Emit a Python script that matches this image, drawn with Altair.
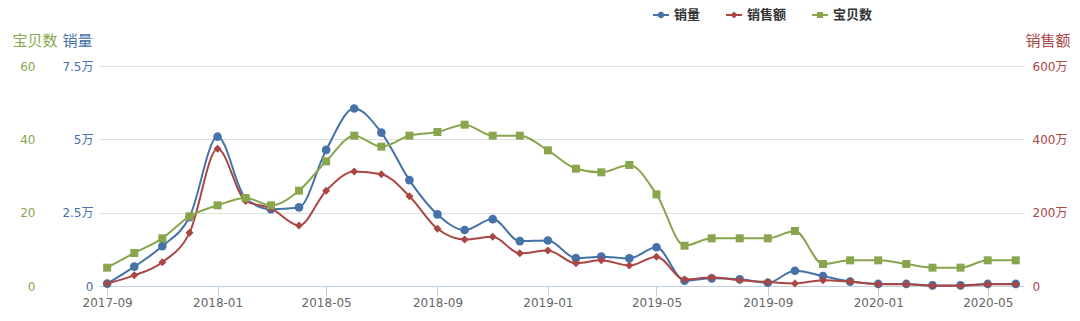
import altair as alt
import pandas as pd

# ---------------- data ----------------
months = [
    "2017-09", "2017-10", "2017-11", "2017-12",
    "2018-01", "2018-02", "2018-03", "2018-04", "2018-05", "2018-06",
    "2018-07", "2018-08", "2018-09", "2018-10", "2018-11", "2018-12",
    "2019-01", "2019-02", "2019-03", "2019-04", "2019-05", "2019-06",
    "2019-07", "2019-08", "2019-09", "2019-10", "2019-11", "2019-12",
    "2020-01", "2020-02", "2020-03", "2020-04", "2020-05", "2020-06",
]
# 销量 (unit: 万)
sales_volume_wan = [
    0.08, 0.66, 1.36, 2.35,
    5.09, 2.99, 2.62, 2.68, 4.64, 6.05,
    5.23, 3.61, 2.44, 1.91, 2.28, 1.53,
    1.55, 0.95, 1.00, 0.94, 1.32, 0.18,
    0.26, 0.23, 0.11, 0.52, 0.34, 0.15,
    0.07, 0.07, 0.02, 0.02, 0.07, 0.07,
]
# 销售额 (unit: 万)
sales_amount_wan = [
    7, 29, 65, 145,
    374, 232, 212, 165, 260, 312,
    305, 245, 156, 127, 134, 89,
    97, 62, 70, 56, 80, 18,
    23, 16, 11, 7, 16, 12,
    5, 5, 1, 1, 5, 5,
]
# 宝贝数
item_count = [
    5, 9, 13, 19,
    22, 24, 22, 26, 34, 41,
    38, 41, 42, 44, 41, 41,
    37, 32, 31, 33, 25, 11,
    13, 13, 13, 15, 6, 7,
    7, 6, 5, 5, 7, 7,
]

series_names = ["销量", "销售额", "宝贝数"]
series_colors = ["#4572A7", "#AA4643", "#89A54E"]
x_tick_labels = ["2017-09", "2018-01", "2018-05", "2018-09", "2019-01",
                 "2019-05", "2019-09", "2020-01", "2020-05"]
volume_ticks = [0, 2.5, 5, 7.5]
amount_ticks = [0, 200, 400, 600]
item_ticks = [0, 20, 40, 60]

BLUE, RED, GREEN = series_colors
FONT = "DejaVu Sans, 'Noto Sans CJK SC'"

df = pd.DataFrame({
    "date": [m + "-01" for m in months],
    "销量": sales_volume_wan,
    "销售额": sales_amount_wan,
    "宝贝数": item_count,
})


def dt(label, day=1):
    y, m = label.split("-")
    return alt.DateTime(year=int(y), month=int(m), date=day, utc=True)


x_enc = alt.X(
    "date:T",
    scale=alt.Scale(type="utc", domain=[dt("2017-08", 23), dt("2020-06", 9)]),
    axis=alt.Axis(
        values=[dt(t) for t in x_tick_labels],
        labelExpr="utcFormat(datum.value, '%Y-%m')",
        title=None, grid=False,
        domain=True, domainColor="#C0D0E0", domainWidth=1,
        tickColor="#C0D0E0", tickSize=10, tickWidth=1,
        labelColor="#666666", labelFontSize=12, labelPadding=1,
        labelFlush=False, labelOverlap=False,
    ),
)


def y_axis(orient, values, color, title, expr, offset, grid, title_x, title_align, pad):
    return alt.Axis(
        orient=orient, values=values, offset=offset,
        labelExpr=expr, labelColor=color, labelFontSize=12, labelPadding=pad,
        domain=False, ticks=False,
        grid=grid, gridColor="#DEDEDE", gridWidth=1,
        title=title, titleColor=color, titleFontSize=15, titleFontWeight="normal",
        titleAngle=0, titleX=title_x, titleY=-26, titleAlign=title_align,
        titleBaseline="middle",
    )


def series_layer(field, color, shape, size, domain, axis):
    base = alt.Chart(df).encode(
        x=x_enc,
        y=alt.Y(f"{field}:Q", scale=alt.Scale(domain=domain, nice=False, zero=True), axis=axis),
    )
    line = base.mark_line(color=color, strokeWidth=2, interpolate="monotone")
    pts = base.mark_point(color=color, filled=True, shape=shape, size=size, opacity=1)
    return alt.layer(line, pts)


blue_layer = series_layer(
    "销量", BLUE, "circle", 75, [0, 7.5],
    y_axis("left", volume_ticks, BLUE, "销量",
           "datum.value == 0 ? '0' : datum.value + '万'", 0, True, -7, "right", 6),
)
red_layer = series_layer(
    "销售额", RED, "diamond", 64, [0, 600],
    y_axis("right", amount_ticks, RED, "销售额",
           "datum.value == 0 ? '0' : datum.value + '万'", 0, False, 2, "left", 9),
)
green_layer = series_layer(
    "宝贝数", GREEN, "square", 64, [0, 60],
    y_axis("left", item_ticks, GREEN, "宝贝数", "datum.label", 58, False, 16, "right", 6),
)

# legend symbols: a short line with the series' marker
legend_paths = [
    "M-1,-0.14H1V0.14H-1Z M0.4,0A0.4,0.4,0,1,1,-0.4,0A0.4,0.4,0,1,1,0.4,0Z",
    "M-1,-0.14H1V0.14H-1Z M0,-0.45L0.45,0L0,0.45L-0.45,0Z",
    "M-1,-0.14H1V0.14H-1Z M-0.38,-0.38H0.38V0.38H-0.38Z",
]
legend_df = pd.DataFrame({"series": series_names})
leg = alt.Legend(
    title=None, orient="none", legendX=554, legendY=-59, direction="horizontal",
    symbolSize=256, symbolStrokeWidth=0, labelFontSize=13, labelFontWeight="bold",
    labelColor="#333333", columnPadding=25, labelOffset=5, padding=0,
)
legend_layer = alt.Chart(legend_df).mark_point(filled=True, opacity=1).encode(
    color=alt.Color("series:N", scale=alt.Scale(domain=series_names, range=series_colors), legend=leg),
    shape=alt.Shape("series:N", scale=alt.Scale(domain=series_names, range=legend_paths), legend=leg),
).transform_filter("false")

chart = (
    alt.layer(blue_layer, red_layer, green_layer, legend_layer)
    .resolve_scale(y="independent", color="independent", shape="independent")
    .properties(
        width=924, height=220,
        autosize=alt.AutoSizeParams(type="none"),
        padding={"left": 99, "top": 66, "right": 57, "bottom": 35},
        background="white",
        view=alt.ViewBackground(stroke="transparent", strokeWidth=0),
    )
    .configure_view(strokeWidth=0, stroke="transparent")
    .configure(font=FONT)
)

chart.save("out.html", embed_options={"renderer": "svg", "actions": False})
